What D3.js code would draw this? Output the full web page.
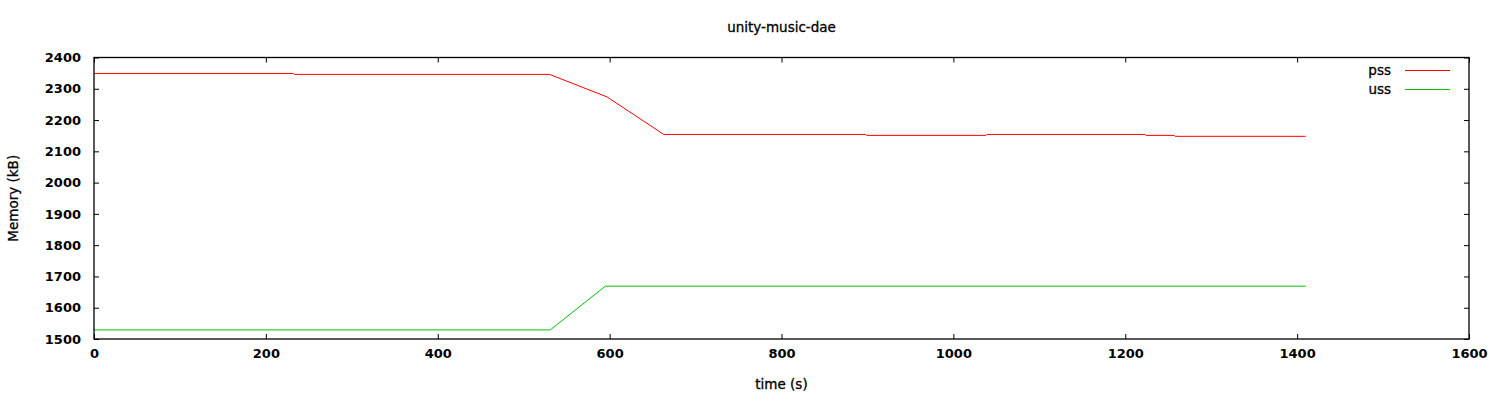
<!DOCTYPE html>
<html><head><meta charset="utf-8">
<script src="https://cdn.jsdelivr.net/npm/d3@7"></script>
<style>
body{margin:0;background:#fff;}
text{font-family:"DejaVu Sans",sans-serif;fill:#000;}
</style></head>
<body>
<svg id="c" width="1500" height="400"></svg>
<script>
const pssTime = [0, 232, 233, 530, 597, 663, 898, 899, 1038, 1039, 1223, 1224, 1257, 1258, 1410];
const pssValue = [2349, 2349, 2346, 2346, 2274, 2154, 2154, 2151, 2151, 2154, 2154, 2151, 2151, 2148, 2148];
const ussTime = [0, 531, 595, 1410];
const ussValue = [1529, 1529, 1669, 1669];
const xTicks = [0, 200, 400, 600, 800, 1000, 1200, 1400, 1600];
const yTicks = [1500, 1600, 1700, 1800, 1900, 2000, 2100, 2200, 2300, 2400];
const seriesNames = ["pss", "uss"];
const seriesColors = ["#ff0000", "#00c000"];

const L = 94, R = 1469, T = 57.5, B = 339;
const svg = d3.select("#c");
const x = d3.scaleLinear().domain([0, 1600]).range([L, R]);
const y = d3.scaleLinear().domain([1500, 2400]).range([B, T]);

const series = [
  pssTime.map((t, i) => [t, pssValue[i]]),
  ussTime.map((t, i) => [t, ussValue[i]])
];
const line = d3.line().x(d => x(d[0])).y(d => y(d[1]));
series.forEach((s, i) => {
  svg.append("path").attr("d", line(s)).attr("fill", "none")
    .attr("stroke", seriesColors[i]).attr("stroke-width", 1);
});

const tl = 5;
const g = svg.append("g");
const xb = d3.axisBottom(x).tickValues(xTicks).tickSizeInner(-tl).tickSizeOuter(0).tickPadding(10).tickFormat(d3.format("d"));
const xt = d3.axisTop(x).tickValues(xTicks).tickSizeInner(-tl).tickSizeOuter(0).tickFormat("");
const yl = d3.axisLeft(y).tickValues(yTicks).tickSizeInner(-tl).tickSizeOuter(0).tickPadding(13).tickFormat(d3.format("d"));
const yr = d3.axisRight(y).tickValues(yTicks).tickSizeInner(-tl).tickSizeOuter(0).tickFormat("");
g.append("g").attr("transform", `translate(0,${B})`).call(xb);
g.append("g").attr("transform", `translate(0,${T})`).call(xt);
g.append("g").attr("transform", `translate(${L},0)`).call(yl);
g.append("g").attr("transform", `translate(${R},0)`).call(yr);
g.selectAll(".domain").remove();
g.selectAll("line").attr("stroke", "#000");
g.selectAll("text").attr("font-family", "DejaVu Sans").attr("font-weight", "bold").attr("font-size", 13).attr("fill", "#000");
svg.append("rect").attr("x", L).attr("y", T).attr("width", R - L).attr("height", B - T)
  .attr("fill", "none").attr("stroke", "#000").attr("stroke-width", 1.3);

svg.append("text").attr("x", (L + R) / 2).attr("y", 32).attr("text-anchor", "middle")
  .attr("font-size", 13.5).attr("font-weight", "normal").attr("stroke", "#000").attr("stroke-width", 0.3).text("unity-music-dae");
svg.append("text").attr("x", (L + R) / 2).attr("y", 389).attr("text-anchor", "middle")
  .attr("font-size", 13.5).attr("font-weight", "normal").attr("stroke", "#000").attr("stroke-width", 0.3).text("time (s)");
svg.append("text").attr("transform", `translate(18,${(T + B) / 2}) rotate(-90)`).attr("text-anchor", "middle")
  .attr("font-size", 13.5).attr("font-weight", "normal").attr("stroke", "#000").attr("stroke-width", 0.3).text("Memory (kB)");

seriesNames.forEach((n, i) => {
  const ly = 70.5 + i * 19;
  svg.append("text").attr("x", 1391).attr("y", ly + 4.5).attr("text-anchor", "end")
    .attr("font-size", 13.5).attr("font-weight", "normal").attr("stroke", "#000").attr("stroke-width", 0.3).text(n);
  svg.append("line").attr("x1", 1405).attr("x2", 1450).attr("y1", ly).attr("y2", ly)
    .attr("stroke", seriesColors[i]).attr("stroke-width", 1);
});
</script>
</body></html>
